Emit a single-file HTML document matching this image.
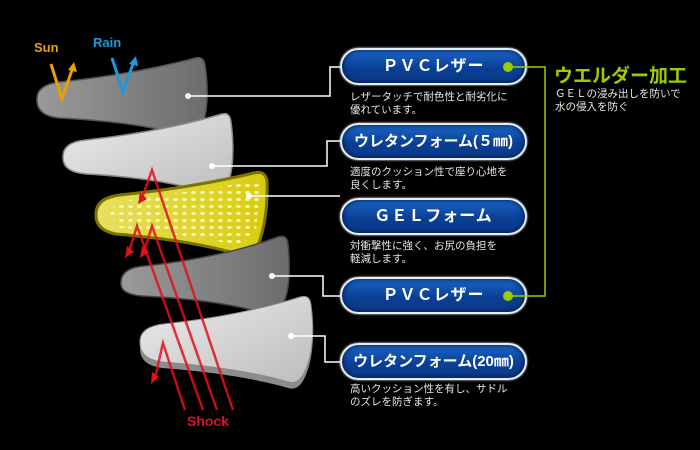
<!DOCTYPE html>
<html><head><meta charset="utf-8"><style>
body{margin:0;background:#000;}
#w{position:relative;width:700px;height:450px;overflow:hidden;background:#000;font-family:"Liberation Sans","Noto Sans CJK JP",sans-serif;}
svg{position:absolute;left:0;top:0}
.b{position:absolute;left:340px;width:183px;height:33px;border:2px solid #e8eef8;border-radius:20px;background:linear-gradient(#1b66c8,#0a3f95 55%,#0b3a88);box-shadow:inset 0 0 6px #00163f,0 0 2px #fff;color:#fff;font-weight:bold;font-size:16px;text-align:center;line-height:33px;letter-spacing:1px;}
.d{position:absolute;left:350px;color:#e6e6e6;font-size:10.5px;line-height:13px;white-space:nowrap}
.t{position:absolute;font-weight:bold;}
</style></head><body><div id="w">
<svg width="700" height="450" viewBox="0 0 700 450">
<defs>
<linearGradient id="g1" x1="0" y1="0" x2="1" y2="0"><stop offset="0" stop-color="#9a9a9a"/><stop offset="1" stop-color="#6c6c6c"/></linearGradient>
<linearGradient id="g2" x1="0" y1="0" x2="1" y2="1"><stop offset="0" stop-color="#ececec"/><stop offset="1" stop-color="#bdbdbd"/></linearGradient>
<linearGradient id="g3" x1="0" y1="0" x2="1" y2="0"><stop offset="0" stop-color="#e6e060"/><stop offset="1" stop-color="#d8cc10"/></linearGradient>
<pattern id="dots" width="9" height="7" patternUnits="userSpaceOnUse"><ellipse cx="4.5" cy="3.5" rx="2.4" ry="1.5" fill="#fbf6a8"/></pattern>
</defs>
<path d="M37,100 Q36,85 60,82 Q130,75 196,58 Q204,56 205,66 Q210,100 203,124 Q198,138 186,136 Q140,122 60,118 Q37,116 37,100Z" fill="url(#g1)" stroke="#555" stroke-width="1.5"/>
<path d="M63,158 Q62,142 86,140 Q160,132 222,114 Q230,112 231,122 Q236,160 228,185 Q222,196 210,193 Q160,178 86,174 Q63,172 63,158Z" fill="url(#g2)" stroke="#888" stroke-width="1.5"/>
<path d="M96,214 Q96,198 120,195 Q190,188 254,173 Q266,170 267,182 Q268,220 258,245 Q252,258 238,254 Q190,240 116,234 Q95,230 96,214Z" fill="url(#g3)" stroke="#7d7400" stroke-width="3"/>
<path d="M110,214 Q112,202 130,200 L252,182 L260,184 L256,232 L240,246 Q200,236 120,228Z" fill="url(#dots)"/>
<path d="M121,284 Q120,268 144,266 Q220,258 278,237 Q287,234 288,244 Q292,282 284,302 Q278,318 266,314 Q222,300 142,296 Q121,294 121,284Z" fill="url(#g1)" stroke="#444" stroke-width="1.5"/>
<path d="M140,349 Q139,333 163,330 Q240,322 300,303 Q310,300 311,311 Q316,348 307,372 Q300,392 288,388 Q240,374 162,368 Q140,365 140,349Z" fill="#8c8c8c"/>
<path d="M140,343 Q139,327 163,324 Q240,316 300,297 Q310,294 311,305 Q316,342 307,366 Q300,386 288,382 Q240,368 162,362 Q140,359 140,343Z" fill="url(#g2)" stroke="#888" stroke-width="1"/>
<g stroke="#e0101e" stroke-width="2.5" fill="none" stroke-opacity="0.85">
<path d="M233,410 L152,170 L142,198"/>
<path d="M217,410 L152,226 L144,252"/>
<path d="M203,410 L137,226 L129,252"/>
<path d="M185,410 L163,343 L155,378"/>
</g>
<g fill="#e0101e">
<path d="M138,204 L140,192 L147,199Z"/><path d="M140,258 L142,246 L149,252Z"/><path d="M125,258 L127,246 L134,252Z"/><path d="M151,384 L152,372 L159,377Z"/>
</g>
<g stroke="#e9a000" stroke-width="3" fill="none"><path d="M51,64 L62,99 L72,70"/></g><path d="M68,70 L74,62 L77,72Z" fill="#e9a000"/>
<g stroke="#1c98e0" stroke-width="3" fill="none"><path d="M112,58 L123,92 L133,64"/></g><path d="M129,64 L136,56 L138,66Z" fill="#1c98e0"/>
<g stroke="#fff" stroke-width="1.5" fill="none">
<path d="M188,96 H330 V67 H340"/><path d="M212,166 H327 V141 H340"/><path d="M249,196 H340"/>
<path d="M272,276 H323 V296 H340"/><path d="M291,336 H325 V362 H340"/>
</g>
<g fill="#fff"><circle cx="188" cy="96" r="3"/><circle cx="212" cy="166" r="3"/><circle cx="249" cy="196" r="3"/><circle cx="272" cy="276" r="3"/><circle cx="291" cy="336" r="3"/></g>
</svg>
<div class="b" style="top:48px">ＰＶＣレザー</div>
<div class="b" style="top:123px;font-size:15px;letter-spacing:0">ウレタンフォーム(５㎜)</div>
<div class="b" style="top:198px">ＧＥＬフォーム</div>
<div class="b" style="top:277px">ＰＶＣレザー</div>
<div class="b" style="top:343px;font-size:15px;letter-spacing:0">ウレタンフォーム(20㎜)</div>
<svg width="700" height="450" viewBox="0 0 700 450">
<path d="M510,67 H545 V296 H510" stroke="#9acd00" stroke-width="1.5" fill="none"/>
<circle cx="508" cy="67" r="5" fill="#9acd00"/><circle cx="508" cy="296" r="5" fill="#9acd00"/>
</svg>
<div class="d" style="top:91px">レザータッチで耐色性と耐劣化に<br>優れています。</div>
<div class="d" style="top:166px">適度のクッション性で座り心地を<br>良くします。</div>
<div class="d" style="top:240px">対衝撃性に強く、お尻の負担を<br>軽減します。</div>
<div class="d" style="top:383px">高いクッション性を有し、サドル<br>のズレを防ぎます。</div>
<div class="t" style="left:554px;top:61px;color:#9acd00;font-size:19px">ウエルダー加工</div>
<div class="d" style="left:555px;top:88px">ＧＥＬの浸み出しを防いで<br>水の侵入を防ぐ</div>
<div class="t" style="left:34px;top:40px;color:#e9a000;font-size:13px">Sun</div>
<div class="t" style="left:93px;top:35px;color:#1c98e0;font-size:13px">Rain</div>
<div class="t" style="left:187px;top:413px;color:#e0102a;font-size:14px">Shock</div>
</div></body></html>
